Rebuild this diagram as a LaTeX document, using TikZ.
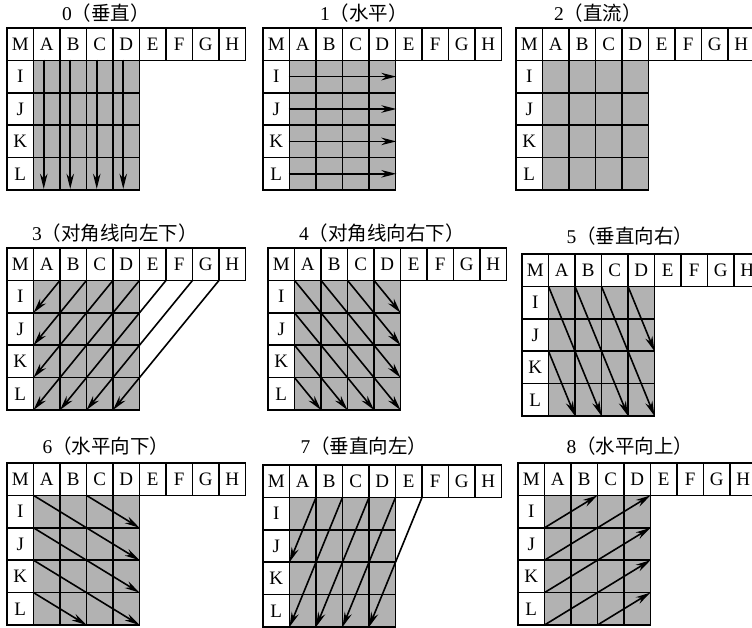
\documentclass[tikz,border=0pt]{standalone}
\usepackage{fontspec}
\setmainfont{Liberation Serif}
\newfontfamily\cjk{Noto Sans CJK SC}
\usetikzlibrary{arrows.meta}

\tikzset{
    % Cells
    cell/.style={draw, line width=1.6pt, fill=white, inner sep=0pt,
                 minimum width=26.5pt, minimum height=32.4pt,
                 font=\fontsize{19}{19}\selectfont},
    pix/.style={cell, fill=black!30},
    % Arrows & titles
    pred/.style={-{Stealth[length=15pt,width=7.5pt]}, line width=1.6pt},
    ttl/.style={inner sep=0pt, font=\fontsize{19.5}{19.5}\selectfont}
}

% one 4x4 block with its neighbours: name, left, top
\newcommand\predblock[3]{%
  \begin{scope}[shift={(#2,#3)}]
    \foreach \lbl [count=\i from 0] in {M,A,B,C,D,E,F,G,H}
      \node[cell] (#1-\lbl) at (\i*26.5+13.25, 16.2) {\lbl};
    \foreach \lbl [count=\j from 1] in {I,J,K,L}
      \node[cell] (#1-\lbl) at (13.25, \j*32.4+16.2) {\lbl};
    \foreach \r in {1,...,4}
      \foreach \c in {1,...,4}
        \node[pix] (#1-\r\c) at (\c*26.5+13.25, \r*32.4+16.2) {};
    \foreach \x in {0,...,9}
      \foreach \y in {0,...,5}
        \coordinate (#1-\x-\y) at (\x*26.5, \y*32.4);
  \end{scope}}

\begin{document}
\begin{tikzpicture}[x=1pt, y=-1pt]
\useasboundingbox (0,0) rectangle (752,628);
\clip (0,0) rectangle (752,628);

% titles
\node[ttl] (t0) at (106,13)  {0\cjk（垂直）};
\node[ttl] (t1) at (364,13)  {1\cjk（水平）};
\node[ttl] (t2) at (598,13)  {2\cjk（直流）};
\node[ttl] (t3) at (115,233) {3\cjk（对角线向左下）};
\node[ttl] (t4) at (382,233) {4\cjk（对角线向右下）};
\node[ttl] (t5) at (630,236) {5\cjk（垂直向右）};
\node[ttl] (t6) at (106,446) {6\cjk（水平向下）};
\node[ttl] (t7) at (364,446) {7\cjk（垂直向左）};
\node[ttl] (t8) at (630,446) {8\cjk（水平向上）};

% blocks
\predblock{p0}{7}{28}
\predblock{p1}{263}{28}
\predblock{p2}{516}{28}
\predblock{p3}{7}{248}
\predblock{p4}{268}{248}
\predblock{p5}{522}{254}
\predblock{p6}{7}{463}
\predblock{p7}{263}{465}
\predblock{p8}{518}{463}

% 0: vertical
\foreach \c in {1,...,4}
  \draw[pred] ([xshift=-3pt]p0-1\c.north) -- ([xshift=-3pt,yshift=2pt]p0-4\c.south);
% 1: horizontal
\foreach \r in {1,...,4}
  \draw[pred] (p1-\r1.west) -- (p1-\r4.east);
% 3: diagonal down left
\foreach \a/\b in {2-1/1-2, 3-1/1-3, 4-1/1-4, 5-1/1-5, 6-1/2-5, 7-1/3-5, 8-1/4-5}
  \draw[pred] (p3-\a) -- (p3-\b);
% 4: diagonal down right
\foreach \a/\b in {1-1/5-5, 2-1/5-4, 3-1/5-3, 4-1/5-2, 1-2/4-5, 1-3/3-5, 1-4/2-5}
  \draw[pred] (p4-\a) -- (p4-\b);
% 5: vertical right
\foreach \a/\b in {1-1/3-5, 2-1/4-5, 3-1/5-5, 4-1/5-3, 1-3/2-5}
  \draw[pred] (p5-\a) -- (p5-\b);
% 6: horizontal down
\foreach \a/\b in {1-1/5-3, 3-1/5-2, 1-2/5-4, 1-3/5-5, 1-4/3-5}
  \draw[pred] (p6-\a) -- (p6-\b);
% 7: vertical left
\foreach \a/\b in {2-1/1-3, 3-1/1-5, 4-1/2-5, 5-1/3-5, 6-1/4-5}
  \draw[pred] (p7-\a) -- (p7-\b);
% 8: horizontal up
\foreach \a/\b in {1-2/3-1, 1-3/5-1, 1-4/5-2, 1-5/5-3, 3-5/5-4}
  \draw[pred] (p8-\a) -- (p8-\b);

\end{tikzpicture}
\end{document}
